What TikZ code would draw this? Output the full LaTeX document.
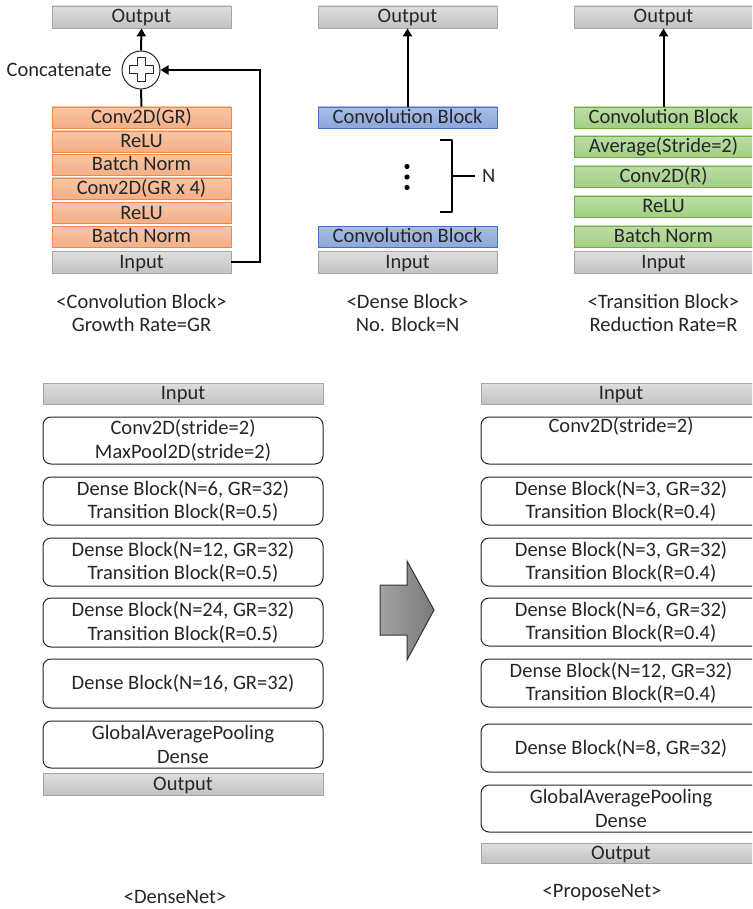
\documentclass[tikz,border=0pt]{standalone}
\usepackage{fontspec}
\setmainfont{Carlito}
\usetikzlibrary{arrows.meta}
\definecolor{txt}{HTML}{262626}
\definecolor{grayT}{HTML}{DEDEDE}
\definecolor{grayB}{HTML}{C3C3C3}
\definecolor{grayE}{HTML}{A6A6A6}
\definecolor{orT}{HTML}{F8C6A6}
\definecolor{orB}{HTML}{F4AE86}
\definecolor{orE}{HTML}{F08A4B}
\definecolor{blT}{HTML}{A8BDE6}
\definecolor{blB}{HTML}{8CA7DA}
\definecolor{blE}{HTML}{4472C4}
\definecolor{grT}{HTML}{BCDDA6}
\definecolor{grB}{HTML}{A2CF84}
\definecolor{grE}{HTML}{70AD47}
\definecolor{arL}{HTML}{A2A2A2}
\definecolor{arR}{HTML}{7A7A7A}
\begin{document}
\begin{tikzpicture}[x=1pt,y=-1pt,
  every node/.style={font=\fontsize{20.5}{23.5}\selectfont, text=txt},
  basebox/.style={draw, inner sep=0pt, minimum width=179pt, text height=13.5pt, text depth=1.5pt, line width=0.8pt},
  graybox/.style={basebox, draw=grayE, top color=grayT, bottom color=grayB, minimum height=22pt},
  orbox/.style={basebox, draw=orE, top color=orT, bottom color=orB, minimum height=21pt},
  blbox/.style={basebox, draw=blE, top color=blT, bottom color=blB, minimum height=21pt},
  grbox/.style={basebox, draw=grE, top color=grT, bottom color=grB, minimum height=21pt},
  wgray/.style={graybox, minimum width=280pt, minimum height=21pt},
  rbox/.style={draw=black!85, line width=1pt, rounded corners=8pt, fill=white, minimum width=280pt, inner sep=0pt, align=center},
  conn/.style={line width=2pt, black},
  arr/.style={conn, -{Triangle[length=8pt,width=9pt]}},
  caption/.style={align=center}
]
\clip (0,0) rectangle (752,909);
\fill[white] (0,0) rectangle (752,909);

% ---------- Convolution block ----------
\node[graybox] (out1) at (141.5,17) {Output};
\node[draw=black!85, line width=1pt, circle, minimum size=38pt, inner sep=0pt, fill=white] (cat) at (141,70) {};
\draw[line width=1pt, black!85] (cat.center)
  ++(4,-12) -- ++(0,8) -- ++(8,0) -- ++(0,8) -- ++(-8,0) -- ++(0,8) -- ++(-8,0) -- ++(0,-8) -- ++(-8,0) -- ++(0,-8) -- ++(8,0) -- ++(0,-8) -- cycle;
\node[anchor=east] (catlbl) at (115,70) {Concatenate};
\node[orbox] (c1) at (141.5,117.5) {Conv2D(GR)};
\node[orbox] (c2) at (141.5,141.5) {ReLU};
\node[orbox] (c3) at (141.5,165) {Batch Norm};
\node[orbox] (c4) at (141.5,188.5) {Conv2D(GR x 4)};
\node[orbox] (c5) at (141.5,213) {ReLU};
\node[orbox] (c6) at (141.5,237) {Batch Norm};
\node[graybox] (in1) at (141.5,262) {Input};
\coordinate (fb1) at (260,262);
\coordinate (fb2) at (260,70);
\draw[conn] (c1.north) -- (cat.south);
\draw[arr] (cat.north) -- (out1.south);
\draw[arr] (in1.east) -- (fb1) -- (fb2) -- (cat.east);
\node[caption] (cap1) at (141.5,313) {<Convolution Block>\\Growth Rate=GR};

% ---------- Dense block ----------
\node[graybox] (out2) at (407.5,17) {Output};
\node[blbox] (cb1) at (407.5,117.5) {Convolution Block};
\node[blbox] (cb2) at (407.5,237) {Convolution Block};
\node[graybox] (in2) at (407.5,262) {Input};
\draw[arr] (cb1.north) -- (out2.south);
\fill[black] (407,166.5) circle (2.6pt) (407,177) circle (2.6pt) (407,187.5) circle (2.6pt);
\coordinate (br1) at (440,140);
\coordinate (br2) at (440,212);
\coordinate (brm) at (452,176);
\node[anchor=west, inner sep=0pt] (nlbl) at (482,176) {N};
\draw[line width=2.5pt, black, line join=round] (br1) -- (452,140) -- (452,212) -- (br2);
\draw[line width=2.5pt, black] (brm) -- (nlbl.west -| 475,176);
\node[caption] (cap2) at (407.5,313) {<Dense Block>\\No. Block=N};

% ---------- Transition block ----------
\node[graybox] (out3) at (663.5,17) {Output};
\node[grbox] (t1) at (663.5,117.5) {Convolution Block};
\node[grbox] (t2) at (663.5,146.5) {Average(Stride=2)};
\node[grbox] (t3) at (663.5,176.5) {Conv2D(R)};
\node[grbox] (t4) at (663.5,206.5) {ReLU};
\node[grbox] (t5) at (663.5,236.5) {Batch Norm};
\node[graybox] (in3) at (663.5,262) {Input};
\draw[arr] (t1.north) -- (out3.south);
\node[caption] (cap3) at (663.5,313) {<Transition Block>\\Reduction Rate=R};

% ---------- DenseNet ----------
\node[wgray] (inA) at (183,393.5) {Input};
\node[rbox, minimum height=47pt] (A1) at (183,440.5) {Conv2D(stride=2)\\MaxPool2D(stride=2)};
\node[rbox, minimum height=48pt] (A2) at (183,501) {Dense Block(N=6, GR=32)\\Transition Block(R=0.5)};
\node[rbox, minimum height=48pt] (A3) at (183,562) {Dense Block(N=12, GR=32)\\Transition Block(R=0.5)};
\node[rbox, minimum height=49pt] (A4) at (183,622.5) {Dense Block(N=24, GR=32)\\Transition Block(R=0.5)};
\node[rbox, minimum height=49pt] (A5) at (183,683.5) {Dense Block(N=16, GR=32)};
\node[rbox, minimum height=47pt] (A6) at (183,744.5) {GlobalAveragePooling\\Dense};
\node[wgray, minimum height=22pt] (outA) at (183,784) {Output};
\node (capA) at (175,897) {<DenseNet>};

% ---------- Big arrow ----------
\draw[draw=black!80, line width=1pt, left color=arL, right color=arR, line join=miter]
  (380,585) -- (407,585) -- (407,561) -- (434,610) -- (407,660) -- (407,635) -- (380,635) -- cycle;

% ---------- ProposeNet ----------
\node[wgray] (inB) at (621,393.5) {Input};
\node[rbox, minimum height=47pt] (B1) at (621,440.5) {Conv2D(stride=2)\\\strut};
\node[rbox, minimum height=48pt] (B2) at (621,501) {Dense Block(N=3, GR=32)\\Transition Block(R=0.4)};
\node[rbox, minimum height=48pt] (B3) at (621,562) {Dense Block(N=3, GR=32)\\Transition Block(R=0.4)};
\node[rbox, minimum height=48pt] (B4) at (621,622) {Dense Block(N=6, GR=32)\\Transition Block(R=0.4)};
\node[rbox, minimum height=48pt] (B5) at (621,683) {Dense Block(N=12, GR=32)\\Transition Block(R=0.4)};
\node[rbox, minimum height=48pt] (B6) at (621,748) {Dense Block(N=8, GR=32)};
\node[rbox, minimum height=47pt] (B7) at (621,808.5) {GlobalAveragePooling\\Dense};
\node[wgray, minimum height=20pt] (outB) at (621,853) {Output};
\node (capB) at (602,893) {<ProposeNet>};
\end{tikzpicture}
\end{document}
